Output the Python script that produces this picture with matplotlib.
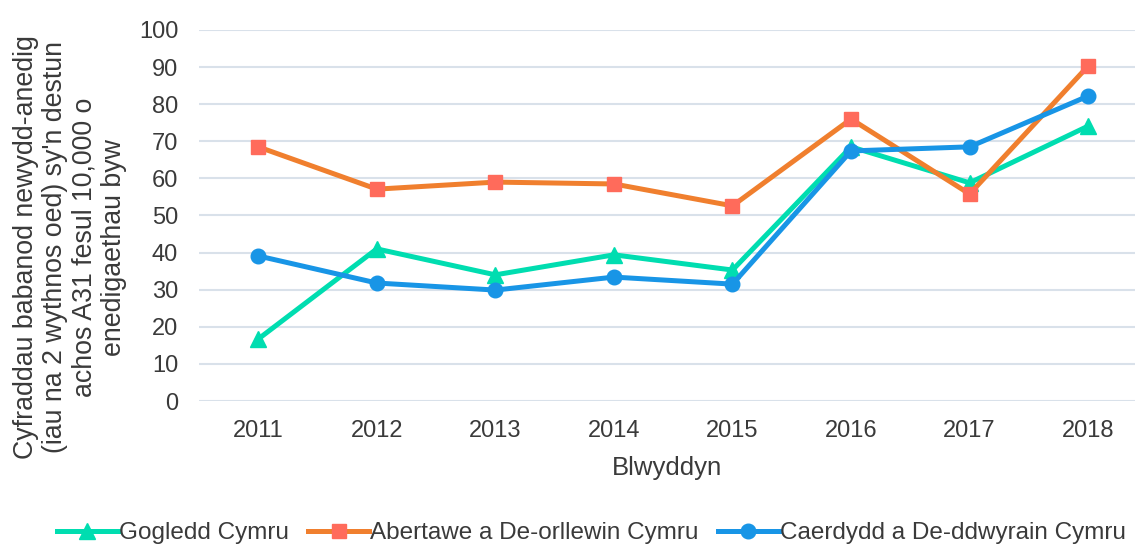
import matplotlib
matplotlib.use("Agg")
import matplotlib.pyplot as plt
from matplotlib.lines import Line2D

plt.rcParams['font.family'] = ['Liberation Sans', 'DejaVu Sans']

# data
years = ['2011', '2012', '2013', '2014', '2015', '2016', '2017', '2018']
gogledd = [16.7, 41.0, 34.0, 39.4, 35.3, 68.5, 58.8, 74.1]
abertawe = [68.5, 57.1, 59.0, 58.5, 52.6, 76.0, 55.8, 90.3]
caerdydd = [39.1, 31.8, 29.9, 33.4, 31.5, 67.4, 68.5, 82.2]
labels = ['Gogledd Cymru', 'Abertawe a De-orllewin Cymru', 'Caerdydd a De-ddwyrain Cymru']

txt = '#3a3a3a'
fig = plt.figure(figsize=(11.35, 5.47), dpi=100)
ax = fig.add_axes([0.1753, 0.2669, 0.8247, 0.6783])

x = range(len(years))
ax.plot(x, gogledd, color='#00DDB0', lw=3.6, marker='^', ms=11, mfc='#00DDB0', mec='#00DDB0', zorder=3)
ax.plot(x, abertawe, color='#F07F2E', lw=3.6, marker='s', ms=10, mfc='#FF6B5B', mec='#FF6B5B', zorder=3)
ax.plot(x, caerdydd, color='#1895E6', lw=3.6, marker='o', ms=10.5, mfc='#1895E6', mec='#1895E6', zorder=4)

ax.set_xlim(-0.5, 7.395)
ax.set_ylim(0, 100)
ax.set_yticks(range(0, 101, 10))
ax.set_xticks(list(x))
ax.set_xticklabels(years)
ax.grid(axis='y', color='#D9E1EA', lw=1.5, zorder=0)
ax.set_axisbelow(True)
for s in ax.spines.values():
    s.set_visible(False)
ax.tick_params(length=0, labelsize=17, colors=txt)
ax.tick_params(axis='y', pad=15)
ax.tick_params(axis='x', pad=14)

ax.set_xlabel('Blwyddyn', fontsize=18.5, color=txt, labelpad=10)
fig.text(0.0615, 0.548,
         'Cyfraddau babanod newydd-anedig\n(iau na 2 wythnos oed) sy\'n destun\nachos A31 fesul 10,000 o\nenedigaethau byw',
         rotation=90, ha='center', va='center', fontsize=19.3, color=txt, linespacing=1.17,
         multialignment='center')

handles = [
    Line2D([], [], color='#00DDB0', lw=3.6, marker='^', ms=11, mfc='#00DDB0', mec='#00DDB0'),
    Line2D([], [], color='#F07F2E', lw=3.6, marker='s', ms=10, mfc='#FF6B5B', mec='#FF6B5B'),
    Line2D([], [], color='#1895E6', lw=3.6, marker='o', ms=10.5, mfc='#1895E6', mec='#1895E6'),
]
leg = fig.legend(handles, labels, loc='center', bbox_to_anchor=(0.521, 0.025), ncol=3,
                 frameon=False, fontsize=17.5, handlelength=2.5, handletextpad=0.05,
                 columnspacing=0.8, labelcolor=txt, borderpad=0)

fig.savefig('out.png', dpi=100)
